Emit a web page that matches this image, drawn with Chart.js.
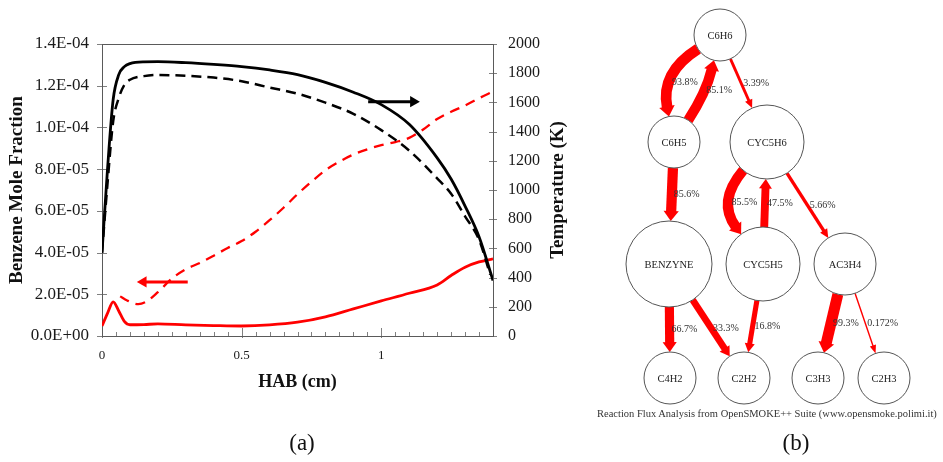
<!DOCTYPE html>
<html>
<head>
<meta charset="utf-8">
<script src="https://cdn.jsdelivr.net/npm/chart.js@4.4.1/dist/chart.umd.min.js"></script>
<style>
  html, body { margin: 0; padding: 0; background: #fff; }
  body { width: 943px; height: 462px; position: relative; overflow: hidden; font-family: "Liberation Serif", "Times New Roman", serif; }
  #profile-chart { position: absolute; left: 0; top: 0; }
  #flux-chart { position: absolute; left: 580px; top: 0; }
  .panel-tag { position: absolute; top: 431px; font-size: 23px; line-height: 1; color: #111; transform: translateX(-50%); }
  #flux-note { position: absolute; left: 597px; top: 409px; font-size: 10.5px; line-height: 1; color: #333; white-space: nowrap; }
</style>
</head>
<body>
<canvas id="profile-chart" width="580" height="462"></canvas>
<canvas id="flux-chart" width="363" height="462"></canvas>
<div class="panel-tag" style="left:302px">(a)</div>
<div class="panel-tag" style="left:796px">(b)</div>
<div id="flux-note">Reaction Flux Analysis from OpenSMOKE++ Suite (www.opensmoke.polimi.it)</div>
<script>
// ---- panel (a): profiles vs height above burner ----
const habGrid = [0, 0.02, 0.04, 0.06, 0.08, 0.10, 0.15, 0.2, 0.3, 0.4, 0.5, 0.6, 0.7, 0.8, 0.9, 1.0, 1.1, 1.2, 1.25, 1.3, 1.35, 1.4];
const tempSolid = [570, 1150, 1620, 1790, 1845, 1866, 1878, 1879, 1872, 1860, 1845, 1822, 1790, 1737, 1670, 1585, 1450, 1220, 1075, 890, 680, 380];
const benzSolid = [4.8e-6, 1.1e-5, 1.64e-5, 1.2e-5, 7.0e-6, 5.4e-6, 5.5e-6, 5.8e-6, 5.3e-6, 5.0e-6, 4.8e-6, 5.3e-6, 6.6e-6, 9.2e-6, 1.3e-5, 1.68e-5, 2.05e-5, 2.45e-5, 2.9e-5, 3.3e-5, 3.55e-5, 3.7e-5];

const habTempDashed = [0, 0.02, 0.04, 0.06, 0.08, 0.10, 0.15, 0.2, 0.3, 0.4, 0.5, 0.6, 0.7, 0.8, 0.9, 1.0, 1.1, 1.2, 1.25, 1.3, 1.35, 1.39];
const tempDashed = [570, 1050, 1470, 1630, 1720, 1755, 1780, 1788, 1782, 1770, 1745, 1702, 1660, 1598, 1522, 1410, 1270, 1080, 975, 820, 660, 420];

const habBenzDashed = [0.065, 0.09, 0.13, 0.16, 0.2, 0.25, 0.3, 0.35, 0.4, 0.45, 0.5, 0.55, 0.6, 0.65, 0.7, 0.75, 0.8, 0.85, 0.9, 0.95, 1.0, 1.05, 1.1, 1.15, 1.2, 1.25, 1.3, 1.35, 1.4];
const benzDashed = [1.9e-5, 1.7e-5, 1.53e-5, 1.66e-5, 2.1e-5, 2.75e-5, 3.2e-5, 3.5e-5, 3.85e-5, 4.22e-5, 4.55e-5, 5.0e-5, 5.55e-5, 6.15e-5, 6.8e-5, 7.4e-5, 7.95e-5, 8.36e-5, 8.7e-5, 8.95e-5, 9.15e-5, 9.3e-5, 9.5e-5, 9.9e-5, 1.04e-4, 1.075e-4, 1.105e-4, 1.14e-4, 1.172e-4];

// arrows telling which axis a curve belongs to
const tempArrowHab = [0.953, 1.115];
const tempArrowT = [1605, 1605];
const benzArrowHab = [0.307, 0.148];
const benzArrowFrac = [2.59e-5, 2.59e-5];

const toXY = (xs, ys) => xs.map((x, i) => ({ x: x, y: ys[i] }));

function sciLabel(v) {
    const [m, e] = Number(v).toExponential(1).split("e");
    const n = Math.abs(parseInt(e, 10));
    return m + "E" + (e[0] === "-" ? "-" : "+") + (n < 10 ? "0" : "") + n;
}

const serif = '"Liberation Serif", "Times New Roman", serif';
Chart.defaults.font.family = serif;
Chart.defaults.color = "#1a1a1a";

// frame, crossing tick marks and axis titles
const profileFrame = {
    id: "profileFrame",
    beforeDatasetsDraw(chart) {
        const { ctx, chartArea: a, scales } = chart;
        ctx.save();
        ctx.lineWidth = 1;
        ctx.strokeStyle = "#808080";
        ctx.beginPath();
        scales.y.ticks.forEach((t) => {
            const py = Math.round(scales.y.getPixelForValue(t.value)) + 0.5;
            ctx.moveTo(a.left - 5, py);
            ctx.lineTo(a.left + 5, py);
        });
        scales.y1.ticks.forEach((t) => {
            const py = Math.round(scales.y1.getPixelForValue(t.value)) + 0.5;
            ctx.moveTo(a.right - 4, py);
            ctx.lineTo(a.right + 4, py);
        });
        scales.x.ticks.forEach((t) => {
            const px = Math.round(scales.x.getPixelForValue(t.value)) + 0.5;
            const major = t.label !== "";
            ctx.moveTo(px, a.bottom + (major ? 2 : 0));
            ctx.lineTo(px, a.bottom - (major ? 8 : 4));
        });
        ctx.stroke();
        ctx.strokeStyle = "#5a5a5a";
        ctx.strokeRect(Math.round(a.left) + 0.5, Math.round(a.top) + 0.5, Math.round(a.width), Math.round(a.height));
        ctx.restore();
    },
    afterDraw(chart) {
        const { ctx, chartArea: a } = chart;
        const midY = (a.top + a.bottom) / 2;
        ctx.save();
        ctx.fillStyle = "#111";
        ctx.textAlign = "center";
        ctx.textBaseline = "middle";
        ctx.font = "bold 19px " + serif;
        ctx.translate(a.left - 84.5, midY);
        ctx.rotate(-Math.PI / 2);
        ctx.fillText("Benzene Mole Fraction", 0, 0);
        ctx.restore();

        ctx.save();
        ctx.fillStyle = "#111";
        ctx.textAlign = "center";
        ctx.textBaseline = "middle";
        ctx.font = "bold 19px " + serif;
        ctx.translate(a.right + 65, midY);
        ctx.rotate(-Math.PI / 2);
        ctx.fillText("Temperature (K)", 0, 0);
        ctx.restore();

        ctx.save();
        ctx.fillStyle = "#111";
        ctx.textAlign = "center";
        ctx.textBaseline = "middle";
        ctx.font = "bold 18px " + serif;
        ctx.fillText("HAB (cm)", (a.left + a.right) / 2, a.bottom + 46);
        ctx.restore();
    },
};

new Chart(document.getElementById("profile-chart"), {
    type: "line",
    data: {
        datasets: [
            {
                data: toXY(habGrid, tempSolid),
                yAxisID: "y1",
                borderColor: "#000",
                borderWidth: 2.8,
                cubicInterpolationMode: "monotone",
                pointRadius: 0,
            },
            {
                data: toXY(habTempDashed, tempDashed),
                yAxisID: "y1",
                borderColor: "#000",
                borderWidth: 2.5,
                borderDash: [10, 6],
                cubicInterpolationMode: "monotone",
                pointRadius: 0,
            },
            {
                data: toXY(habBenzDashed, benzDashed),
                yAxisID: "y",
                borderColor: "#ff0000",
                borderWidth: 2.3,
                borderDash: [10, 7],
                cubicInterpolationMode: "monotone",
                pointRadius: 0,
            },
            {
                data: toXY(habGrid, benzSolid),
                yAxisID: "y",
                borderColor: "#ff0000",
                borderWidth: 2.8,
                cubicInterpolationMode: "monotone",
                pointRadius: 0,
            },
            {
                data: toXY(tempArrowHab, tempArrowT),
                yAxisID: "y1",
                borderColor: "#000",
                backgroundColor: "#000",
                borderWidth: 3,
                pointStyle: "triangle",
                pointRadius: [0, 6.5],
                pointRotation: [0, 90],
                pointBorderWidth: 0,
            },
            {
                data: toXY(benzArrowHab, benzArrowFrac),
                yAxisID: "y",
                borderColor: "#ff0000",
                backgroundColor: "#ff0000",
                borderWidth: 3,
                pointStyle: "triangle",
                pointRadius: [0, 6.5],
                pointRotation: [0, -90],
                pointBorderWidth: 0,
            },
        ],
    },
    options: {
        responsive: false,
        animation: false,
        layout: { padding: { top: 44, left: 0, right: 0, bottom: 0 } },
        plugins: { legend: { display: false }, tooltip: { enabled: false } },
        scales: {
            x: {
                type: "linear",
                min: 0,
                max: 1.4,
                afterFit: (scale) => { scale.height = 126; },
                grid: { display: false, drawTicks: false },
                border: { display: false },
                ticks: {
                    stepSize: 0.05,
                    autoSkip: false,
                    maxRotation: 0,
                    padding: 12,
                    font: { size: 13 },
                    callback: (v) => {
                        const half = v * 2;
                        return Math.abs(half - Math.round(half)) < 1e-6 ? String(Math.round(half) / 2) : "";
                    },
                },
            },
            y: {
                position: "left",
                min: 0,
                max: 1.4e-4,
                afterFit: (scale) => { scale.width = 102; },
                grid: { display: false, drawTicks: false },
                border: { display: false },
                ticks: { stepSize: 2e-5, padding: 13, font: { size: 17 }, callback: (v) => sciLabel(v) },
            },
            y1: {
                position: "right",
                min: 0,
                max: 2000,
                afterFit: (scale) => { scale.width = 87; },
                grid: { display: false, drawTicks: false },
                border: { display: false },
                ticks: { stepSize: 200, padding: 15, font: { size: 16 }, callback: (v) => String(v) },
            },
        },
    },
    plugins: [profileFrame],
});

// ---- panel (b): reaction flux diagram ----
const fluxNodes = ["C6H6", "C6H5", "CYC5H6", "BENZYNE", "CYC5H5", "AC3H4", "C4H2", "C2H2", "C3H3", "C2H3"];
const fluxNodeX = [140, 94, 187, 89, 183, 265, 90, 164, 238, 304];
const fluxNodeY = [35, 142, 142, 264, 264, 264, 378, 378, 378, 378];
const fluxFrom = [0, 1, 0, 1, 2, 4, 2, 3, 3, 4, 5, 5];
const fluxTo = [1, 0, 2, 3, 4, 2, 5, 6, 7, 7, 8, 9];
const fluxPct = [93.8, 85.1, 3.39, 85.6, 85.5, 47.5, 5.66, 66.7, 33.3, 16.8, 99.3, 0.172];

// styling only
const nodeRadius = [26, 26, 37, 43, 37, 31, 26, 26, 26, 26];
const edgeBend = [40, 10, 0, 0, 48, 0, 0, 0, 0, 0, 0, 0];

function edgeGeometry(chart, i) {
    const sx = chart.scales.x, sy = chart.scales.y;
    const a = fluxFrom[i], b = fluxTo[i];
    const ax = sx.getPixelForValue(fluxNodeX[a]), ay = sy.getPixelForValue(fluxNodeY[a]);
    const bx = sx.getPixelForValue(fluxNodeX[b]), by = sy.getPixelForValue(fluxNodeY[b]);
    const len = Math.hypot(bx - ax, by - ay);
    const ux = (bx - ax) / len, uy = (by - ay) / len;
    const cx = (ax + bx) / 2 - uy * edgeBend[i];
    const cy = (ay + by) / 2 + ux * edgeBend[i];
    const toward = (px, py, r) => {
        const l = Math.hypot(cx - px, cy - py);
        return [px + (cx - px) / l * r, py + (cy - py) / l * r];
    };
    const p0 = toward(ax, ay, nodeRadius[a]);
    const p2 = toward(bx, by, nodeRadius[b]);
    return { p0, c: [cx, cy], p2 };
}

function bezierAt(g, t) {
    const m = 1 - t;
    return [
        m * m * g.p0[0] + 2 * m * t * g.c[0] + t * t * g.p2[0],
        m * m * g.p0[1] + 2 * m * t * g.c[1] + t * t * g.p2[1],
    ];
}

const fluxEdges = {
    id: "fluxEdges",
    beforeDatasetsDraw(chart) {
        const ctx = chart.ctx;
        ctx.save();
        fluxPct.forEach((p, i) => {
            const g = edgeGeometry(chart, i);
            const w = 1 + 10 * Math.sqrt(p / 100);
            const tl = Math.hypot(g.p2[0] - g.c[0], g.p2[1] - g.c[1]);
            const tx = (g.p2[0] - g.c[0]) / tl, ty = (g.p2[1] - g.c[1]) / tl;
            const headLen = 8 + w * 0.2;
            const headHalf = 2.5 + w * 0.5;
            const baseX = g.p2[0] - tx * headLen, baseY = g.p2[1] - ty * headLen;
            ctx.strokeStyle = "#ff0000";
            ctx.fillStyle = "#ff0000";
            ctx.lineWidth = w;
            ctx.lineCap = "butt";
            ctx.beginPath();
            ctx.moveTo(g.p0[0], g.p0[1]);
            ctx.quadraticCurveTo(g.c[0], g.c[1], baseX + tx, baseY + ty);
            ctx.stroke();
            ctx.beginPath();
            ctx.moveTo(g.p2[0], g.p2[1]);
            ctx.lineTo(baseX - ty * headHalf, baseY + tx * headHalf);
            ctx.lineTo(baseX + ty * headHalf, baseY - tx * headHalf);
            ctx.closePath();
            ctx.fill();
        });
        ctx.restore();
    },
    afterDatasetsDraw(chart) {
        const ctx = chart.ctx;
        const sx = chart.scales.x, sy = chart.scales.y;
        ctx.save();
        ctx.textBaseline = "middle";
        // edge labels, just right of the edge at mid height
        ctx.font = "10px " + serif;
        ctx.fillStyle = "#333";
        ctx.textAlign = "left";
        fluxPct.forEach((p, i) => {
            const g = edgeGeometry(chart, i);
            const midY = (g.p0[1] + g.p2[1]) / 2;
            let best = g.p0, bestD = Infinity;
            for (let t = 0; t <= 1.0001; t += 0.01) {
                const q = bezierAt(g, t);
                const d = Math.abs(q[1] - midY);
                if (d < bestD) { bestD = d; best = q; }
            }
            ctx.fillText(p + "%", best[0] + 2, midY);
        });
        // node names
        ctx.font = "10.5px " + serif;
        ctx.fillStyle = "#222";
        ctx.textAlign = "center";
        fluxNodes.forEach((n, i) => {
            ctx.fillText(n, sx.getPixelForValue(fluxNodeX[i]), sy.getPixelForValue(fluxNodeY[i]) + 1);
        });
        ctx.restore();
    },
};

new Chart(document.getElementById("flux-chart"), {
    type: "bubble",
    data: {
        datasets: [
            {
                data: fluxNodes.map((n, i) => ({ x: fluxNodeX[i], y: fluxNodeY[i], r: nodeRadius[i] })),
                backgroundColor: "#fff",
                borderColor: "#555",
                borderWidth: 1,
                clip: false,
            },
        ],
    },
    options: {
        responsive: false,
        animation: false,
        layout: { padding: 0, autoPadding: false },
        plugins: { legend: { display: false }, tooltip: { enabled: false } },
        scales: {
            x: { type: "linear", min: 0, max: 363, display: false },
            y: { type: "linear", min: 0, max: 462, reverse: true, display: false },
        },
    },
    plugins: [fluxEdges],
});
</script>
</body>
</html>
